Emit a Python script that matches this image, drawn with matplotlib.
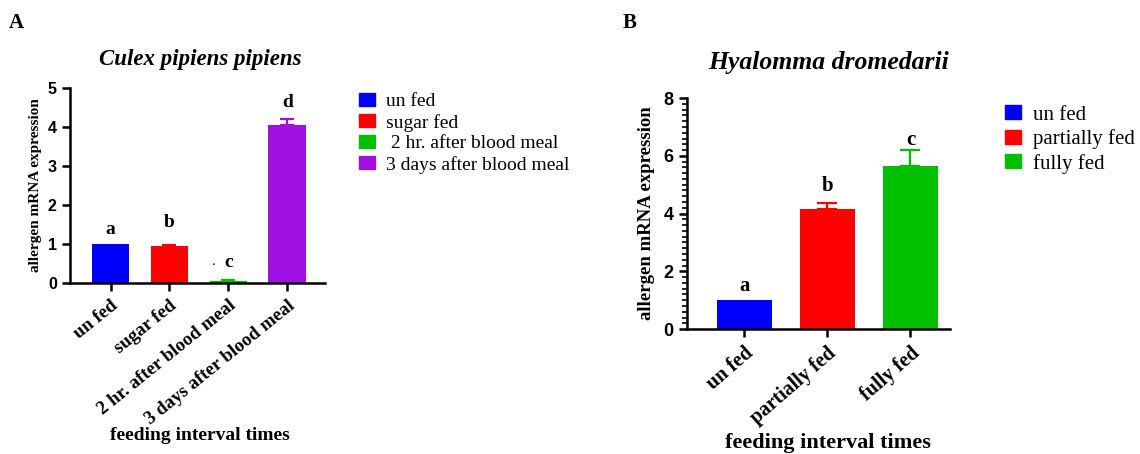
import matplotlib.pyplot as plt
from matplotlib.patches import Patch
from matplotlib.ticker import MultipleLocator

# Culex pipiens pipiens
culex_groups = ["un fed", "sugar fed", "2 hr. after blood meal", "3 days after blood meal"]
culex_legend = ["un fed", "sugar fed", " 2 hr. after blood meal", "3 days after blood meal"]
culex_values = [1.0, 0.95, 0.05, 4.05]
culex_err = [0.0, 0.03, 0.02, 0.15]
culex_letters = ["a", "b", "c", "d"]
culex_letter_y = [1.36, 1.55, 0.52, 4.62]
culex_colors = ["#0000ff", "#ff0000", "#00c000", "#a010e0"]

# Hyalomma dromedarii
hyal_groups = ["un fed", "partially fed", "fully fed"]
hyal_values = [1.0, 4.15, 5.65]
hyal_err = [0.0, 0.2, 0.55]
hyal_letters = ["a", "b", "c"]
hyal_letter_y = [1.5, 4.95, 6.55]
hyal_colors = ["#0000ff", "#ff0000", "#00c000"]

SERIF = "Liberation Serif"
SANS = "Liberation Sans"

fig = plt.figure(figsize=(11.4, 4.54), dpi=100)


def draw_panel(ax, groups, values, err, letters, letter_y, colors, width, cap,
               xlim, ylim, yticks, fs_tick, fs_lab, rot, fs_letter):
    x = list(range(len(values)))
    ax.bar(x, values, width=width, color=colors, zorder=2)
    for xi, v, e, c in zip(x, values, err, colors):
        if e > 0:
            ax.errorbar(xi, v, yerr=[[0], [e]], fmt="none", ecolor=c,
                        elinewidth=1.6, capsize=cap, capthick=1.6, zorder=1)
    for xi, t, ly in zip(x, letters, letter_y):
        ax.text(xi, ly, t, ha="center", va="center", fontsize=fs_letter,
                fontweight="bold", family=SERIF)
    ax.set_xlim(*xlim)
    ax.set_ylim(*ylim)
    ax.set_yticks(yticks)
    ax.set_xticks(x)
    ax.set_xticklabels(groups, rotation=rot, ha="right", rotation_mode="anchor",
                       fontsize=fs_lab, fontweight="bold", family=SERIF)
    for lbl in ax.get_yticklabels():
        lbl.set_fontfamily(SANS)
        lbl.set_fontweight("bold")
        lbl.set_fontsize(fs_tick)
    for s in ["top", "right"]:
        ax.spines[s].set_visible(False)
    for s in ["left", "bottom"]:
        ax.spines[s].set_linewidth(1.8)
    ax.tick_params(axis="both", which="major", width=1.8, length=6, direction="out")
    ax.tick_params(axis="x", pad=4)


# Panel A
axA = fig.add_axes([0.0614, 0.377, 0.2236, 0.429])
draw_panel(axA, culex_groups, culex_values, culex_err, culex_letters, culex_letter_y,
           culex_colors, 0.64, 5, (-0.69, 3.64), (0, 5), [0, 1, 2, 3, 4, 5],
           11.5, 13.5, 39, 14)
axA.text(1.75, 0.55, ".", ha="center", va="center", fontsize=11, family=SERIF)
axA.set_ylabel("allergen mRNA expression", family=SERIF, fontsize=11,
               fontweight="bold", labelpad=4)
fig.text(0.176, 0.868, "Culex pipiens pipiens", ha="center", va="center",
         family=SERIF, style="italic", fontweight="bold", fontsize=16.5)
axA.legend(handles=[Patch(color=c, label=l) for c, l in zip(culex_colors, culex_legend)],
           loc="upper left", bbox_to_anchor=(1.067, 1.065), frameon=False,
           prop={"family": SERIF, "size": 14}, handlelength=0.8, handleheight=0.65,
           labelspacing=0.18, handletextpad=0.55)
fig.text(0.175, 0.04, "feeding interval times", ha="center", va="center",
         family=SERIF, fontweight="bold", fontsize=14)

# Panel B
axB = fig.add_axes([0.6026, 0.275, 0.231, 0.509])
draw_panel(axB, hyal_groups, hyal_values, hyal_err, hyal_letters, hyal_letter_y,
           hyal_colors, 0.66, 7, (-0.69, 2.48), (0, 8), [0, 2, 4, 6, 8],
           13, 14.5, 41, 15)
axB.yaxis.set_minor_locator(MultipleLocator(0.2))
axB.tick_params(axis="y", which="minor", width=1.2, length=3.5, direction="out")
axB.set_ylabel("allergen mRNA expression", family=SERIF, fontsize=13.5,
               fontweight="bold", labelpad=6)
fig.text(0.7265, 0.862, "Hyalomma dromedarii", ha="center", va="center",
         family=SERIF, style="italic", fontweight="bold", fontsize=18.5)
axB.legend(handles=[Patch(color=c, label=l) for c, l in zip(hyal_colors, hyal_groups)],
           loc="upper left", bbox_to_anchor=(1.135, 1.05), frameon=False,
           prop={"family": SERIF, "size": 15}, handlelength=0.8, handleheight=0.65,
           labelspacing=0.22, handletextpad=0.55)
fig.text(0.726, 0.024, "feeding interval times", ha="center", va="center",
         family=SERIF, fontweight="bold", fontsize=16)

fig.text(0.008, 0.95, "A", family=SERIF, fontweight="bold", fontsize=15, va="center")
fig.text(0.546, 0.95, "B", family=SERIF, fontweight="bold", fontsize=15, va="center")

fig.savefig("out.png", dpi=100)
